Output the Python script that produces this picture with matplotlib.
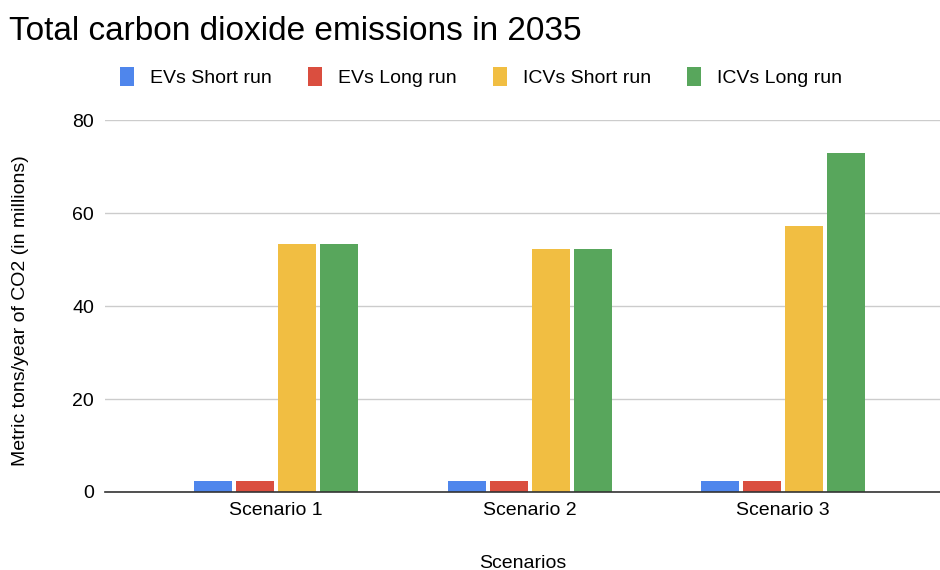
import numpy as np
import matplotlib.pyplot as plt

plt.rcParams['font.family'] = ['Liberation Sans', 'DejaVu Sans']

# data
scenarios = ["Scenario 1", "Scenario 2", "Scenario 3"]
series_names = ["EVs Short run", "EVs Long run", "ICVs Short run", "ICVs Long run"]
evs_short = [2.4, 2.4, 2.4]
evs_long = [2.4, 2.4, 2.4]
icvs_short = [53.3, 52.3, 57.2]
icvs_long = [53.3, 52.3, 73.0]
yticks = [0, 20, 40, 60, 80]

colors = ["#4f86ec", "#da4e3f", "#f1be42", "#58a65c"]
series = [evs_short, evs_long, icvs_short, icvs_long]

fig = plt.figure(figsize=(9.4, 5.7), dpi=100)
ax = fig.add_axes([0.112, 0.137, 0.888, 0.652])

x = np.arange(len(scenarios))
step = 0.1657
width = 0.15
for i, (vals, name, c) in enumerate(zip(series, series_names, colors)):
    ax.bar(x + (i - 1.5) * step, vals, width, color=c, label=name, zorder=3)

ax.set_xlim(-0.675, 2.62)
ax.set_ylim(0, 80)
ax.set_yticks(yticks)
ax.set_xticks(x)
ax.set_xticklabels(scenarios, fontsize=14)
ax.tick_params(axis='y', length=0, labelsize=14, pad=8)
ax.tick_params(axis='x', length=0, pad=7)
ax.grid(axis='y', color='#cccccc', lw=1, zorder=0)
for s in ['top', 'right', 'left']:
    ax.spines[s].set_visible(False)
ax.spines['bottom'].set_color('#333333')
ax.spines['bottom'].set_linewidth(1.2)
ax.spines['bottom'].set_zorder(4)

ax.set_xlabel("Scenarios", fontsize=14, labelpad=26)
fig.text(0.022, 0.455, "Metric tons/year of CO2 (in millions)", rotation=90,
         fontsize=14, ha='center', va='center')

fig.text(0.010, 0.945, "Total carbon dioxide emissions in 2035", fontsize=24,
         ha='left', va='center')

fig.legend(loc='center', bbox_to_anchor=(0.512, 0.865), ncol=4, frameon=False,
           fontsize=14, handlelength=0.7, handleheight=1.1,
           columnspacing=1.85, handletextpad=0.85)

fig.savefig("out.png", dpi=100, facecolor='white')
